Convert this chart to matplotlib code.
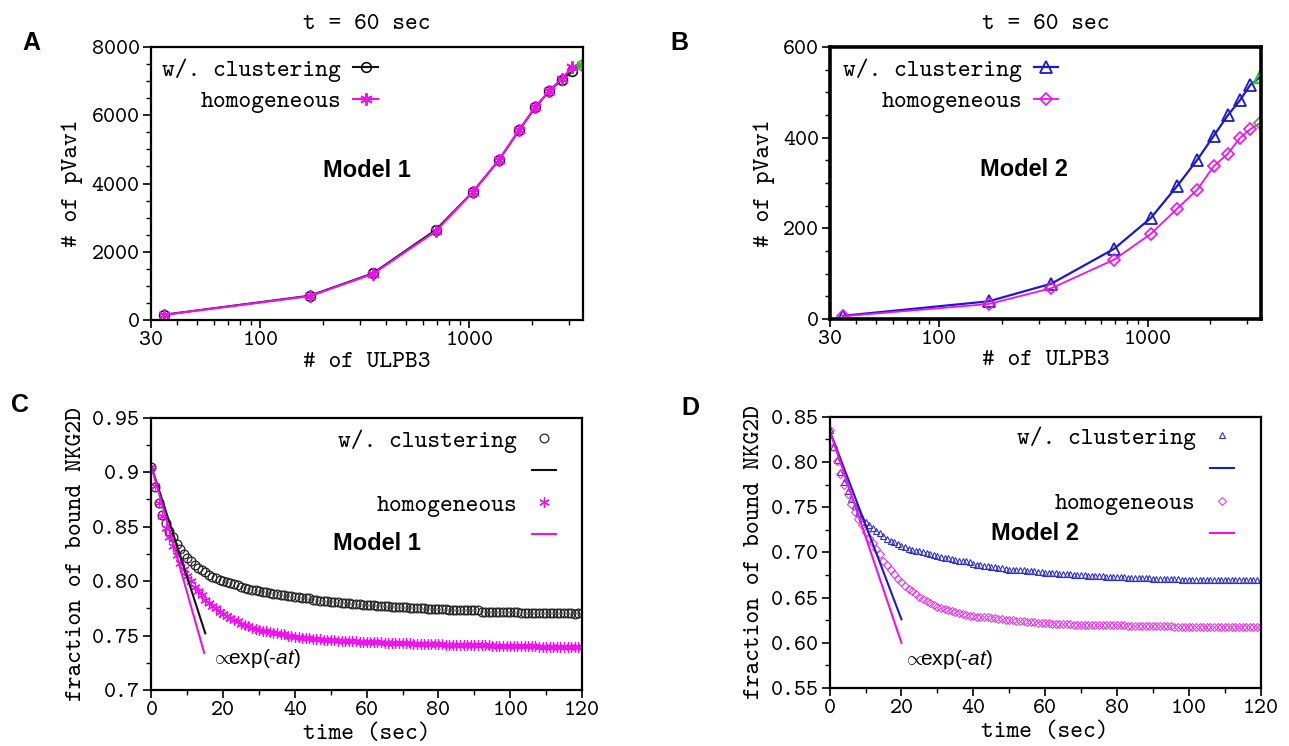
import matplotlib
matplotlib.use('Agg')
import matplotlib.pyplot as plt
from matplotlib.ticker import FixedLocator, FixedFormatter

# ---------------- data ----------------
ulpb3 = [34.6, 173, 346, 692, 1038, 1384, 1730, 2076, 2422, 2768, 3114, 3460]
A_clust = [155, 714, 1369, 2640, 3745, 4675, 5555, 6240, 6718, 7040, 7286, 7480]
A_homog = [150, 700, 1350, 2600, 3740, 4680, 5560, 6250, 6720, 7070, 7400, 7480]
B_clust = [7, 39, 78, 155, 223, 293, 351, 404, 449, 482, 517, 533]
B_homog = [6, 33, 68, 131, 188, 243, 285, 337, 364, 399, 419, 432]

time_s = list(range(0, 121))
C_clust = [0.905, 0.886, 0.872, 0.861, 0.853, 0.846, 0.840, 0.834, 0.829, 0.825,
           0.821, 0.818, 0.815, 0.812, 0.810, 0.808, 0.806, 0.804, 0.803, 0.801,
           0.800, 0.799, 0.798, 0.797, 0.796, 0.795, 0.794, 0.793, 0.792, 0.792,
           0.791, 0.790, 0.790, 0.789, 0.788, 0.788, 0.787, 0.787, 0.786, 0.786,
           0.785, 0.785, 0.784, 0.784, 0.784, 0.783, 0.783, 0.782, 0.782, 0.782,
           0.781, 0.781, 0.781, 0.780, 0.780, 0.780, 0.779, 0.779, 0.779, 0.778,
           0.778, 0.778, 0.778, 0.777, 0.777, 0.777, 0.777, 0.776, 0.776, 0.776,
           0.776, 0.776, 0.775, 0.775, 0.775, 0.775, 0.775, 0.774, 0.774, 0.774,
           0.774, 0.774, 0.774, 0.773, 0.773, 0.773, 0.773, 0.773, 0.773, 0.773,
           0.773, 0.773, 0.772, 0.772, 0.772, 0.772, 0.772, 0.772, 0.772, 0.772,
           0.772, 0.772, 0.772, 0.771, 0.771, 0.771, 0.771, 0.771, 0.771, 0.771,
           0.771, 0.771, 0.771, 0.771, 0.771, 0.771, 0.771, 0.771, 0.770, 0.771, 0.771]
C_homog = [0.905, 0.887, 0.872, 0.860, 0.849, 0.840, 0.832, 0.824, 0.817, 0.811,
           0.805, 0.800, 0.795, 0.791, 0.787, 0.783, 0.780, 0.777, 0.775, 0.772,
           0.770, 0.768, 0.766, 0.764, 0.763, 0.761, 0.760, 0.759, 0.757, 0.756,
           0.755, 0.754, 0.754, 0.753, 0.752, 0.752, 0.751, 0.751, 0.750, 0.750,
           0.749, 0.749, 0.748, 0.748, 0.748, 0.747, 0.747, 0.747, 0.746, 0.746,
           0.746, 0.746, 0.745, 0.745, 0.745, 0.745, 0.745, 0.745, 0.744, 0.744,
           0.744, 0.744, 0.744, 0.744, 0.744, 0.743, 0.743, 0.743, 0.743, 0.743,
           0.743, 0.743, 0.743, 0.742, 0.742, 0.742, 0.742, 0.742, 0.742, 0.742,
           0.742, 0.742, 0.741, 0.741, 0.741, 0.741, 0.741, 0.741, 0.741, 0.741,
           0.741, 0.741, 0.741, 0.741, 0.741, 0.740, 0.740, 0.740, 0.740, 0.740,
           0.740, 0.740, 0.740, 0.740, 0.740, 0.740, 0.740, 0.740, 0.739, 0.739,
           0.739, 0.739, 0.739, 0.739, 0.739, 0.739, 0.739, 0.739, 0.739, 0.739, 0.739]
D_clust = [0.835, 0.817, 0.802, 0.789, 0.778, 0.768, 0.759, 0.751, 0.744, 0.738,
           0.734, 0.730, 0.727, 0.724, 0.721, 0.718, 0.715, 0.713, 0.711, 0.709,
           0.707, 0.706, 0.704, 0.703, 0.702, 0.701, 0.700, 0.699, 0.698, 0.697,
           0.696, 0.695, 0.694, 0.694, 0.693, 0.692, 0.691, 0.690, 0.690, 0.689,
           0.687, 0.686, 0.686, 0.685, 0.685, 0.684, 0.684, 0.683, 0.683, 0.682,
           0.681, 0.681, 0.680, 0.680, 0.680, 0.679, 0.679, 0.679, 0.678, 0.678,
           0.677, 0.677, 0.677, 0.677, 0.676, 0.676, 0.676, 0.676, 0.675, 0.675,
           0.675, 0.675, 0.674, 0.674, 0.674, 0.674, 0.674, 0.673, 0.673, 0.673,
           0.673, 0.673, 0.673, 0.672, 0.672, 0.672, 0.672, 0.672, 0.672, 0.672,
           0.671, 0.671, 0.671, 0.671, 0.671, 0.671, 0.671, 0.671, 0.670, 0.670,
           0.670, 0.670, 0.670, 0.670, 0.670, 0.670, 0.670, 0.670, 0.670, 0.670,
           0.670, 0.670, 0.669, 0.669, 0.669, 0.669, 0.669, 0.669, 0.669, 0.669, 0.669]
D_homog = [0.835, 0.817, 0.801, 0.787, 0.775, 0.764, 0.754, 0.745, 0.737, 0.730,
           0.723, 0.716, 0.710, 0.704, 0.698, 0.691, 0.686, 0.681, 0.676, 0.671,
           0.667, 0.663, 0.660, 0.657, 0.654, 0.651, 0.648, 0.646, 0.644, 0.642,
           0.640, 0.639, 0.637, 0.636, 0.635, 0.634, 0.633, 0.632, 0.631, 0.630,
           0.630, 0.629, 0.629, 0.628, 0.628, 0.627, 0.627, 0.626, 0.626, 0.625,
           0.625, 0.625, 0.624, 0.624, 0.624, 0.623, 0.623, 0.623, 0.622, 0.622,
           0.622, 0.622, 0.621, 0.621, 0.621, 0.621, 0.621, 0.621, 0.620, 0.620,
           0.620, 0.620, 0.620, 0.620, 0.620, 0.620, 0.620, 0.620, 0.620, 0.620,
           0.620, 0.620, 0.620, 0.619, 0.619, 0.619, 0.619, 0.619, 0.619, 0.619,
           0.619, 0.619, 0.619, 0.619, 0.619, 0.619, 0.618, 0.618, 0.618, 0.618,
           0.618, 0.618, 0.618, 0.618, 0.618, 0.618, 0.618, 0.618, 0.618, 0.617,
           0.617, 0.617, 0.617, 0.617, 0.617, 0.617, 0.617, 0.617, 0.617, 0.617, 0.617]

fitC_t_clust = [0, 15.0]
fitC_clust = [0.905, 0.752]
fitC_t_homog = [0, 14.7]
fitC_homog = [0.905, 0.734]
fitD_t = [0, 20.0]
fitD_clust = [0.835, 0.626]
fitD_homog = [0.835, 0.600]

C_yticks = [0.7, 0.75, 0.8, 0.85, 0.9, 0.95]
C_yticklabels = ['0.7', '0.75', '0.80', '0.85', '0.9', '0.95']
D_yticks = [0.55, 0.6, 0.65, 0.7, 0.75, 0.8, 0.85]
D_yticklabels = ['0.55', '0.60', '0.65', '0.70', '0.75', '0.80', '0.85']
x_ticks = [0, 20, 40, 60, 80, 100, 120]
log_ticks = [30, 100, 1000]
log_ticklabels = ['30', '100', '1000']
log_minor = [40, 50, 60, 70, 80, 90, 200, 300, 400, 500, 600, 700, 800, 900, 2000, 3000]

# ---------------- style ----------------
MONO = ['cmtt10', 'DejaVu Sans Mono']
SANS = ['Liberation Sans', 'DejaVu Sans']
plt.rcParams['font.family'] = MONO
plt.rcParams['mathtext.fontset'] = 'custom'
plt.rcParams['mathtext.rm'] = 'Liberation Sans'
plt.rcParams['mathtext.it'] = 'Liberation Sans:italic'
plt.rcParams['mathtext.bf'] = 'Liberation Sans:bold'
plt.rcParams['axes.unicode_minus'] = False

BLACK = '#111111'
MAG = '#ee11ee'
BLUE = '#1a1acc'
GREEN = '#22cc22'
FS = 17.5
TFS = 16.5
EXP_TXT = r'$\propto\!\!$exp(-$\mathit{at}$)'

fig = plt.figure(figsize=(12.89, 7.46), dpi=100)
axA = fig.add_axes([0.1171, 0.5710, 0.3351, 0.3660])
axB = fig.add_axes([0.6439, 0.5724, 0.3344, 0.3646])
axC = fig.add_axes([0.1175, 0.0751, 0.3340, 0.3650])
axD = fig.add_axes([0.6436, 0.0777, 0.3344, 0.3637])


def style(ax, lw):
    for s in ax.spines.values():
        s.set_linewidth(lw)
        s.set_color('black')
    ax.tick_params(which='major', direction='out', length=6, width=1.2,
                   top=False, right=False, labelsize=TFS, pad=2)
    ax.tick_params(which='minor', direction='out', length=3.5, width=1.0,
                   top=False, right=False)


# ---------- A ----------
axA.plot(ulpb3, A_clust, '-', color=BLACK, lw=1.5, marker='o', ms=7, mfc='none',
         mec=BLACK, mew=1.2, markevery=slice(0, len(ulpb3) - 1))
axA.plot(ulpb3, A_homog, '-', color=MAG, lw=1.5, marker=(6, 2, 0), ms=9,
         mec=MAG, mew=1.4, markevery=slice(0, len(ulpb3) - 1))
axA.plot(ulpb3[-1], A_clust[-1], 'o', ms=7, mfc='none', mec=GREEN, mew=1.4)
axA.plot(ulpb3[-1], A_homog[-1], marker=(6, 2, 0), ms=9, mec=GREEN, mew=1.4)
hA1 = plt.Line2D([], [], color=BLACK, lw=1.5, marker='o', ms=7, mfc='none', mec=BLACK, mew=1.2)
hA2 = plt.Line2D([], [], color=MAG, lw=1.5, marker=(6, 2, 0), ms=9, mec=MAG, mew=1.4)
axA.set_xscale('log')
axA.set_xlim(30, 3500)
axA.set_ylim(0, 8000)
axA.xaxis.set_major_locator(FixedLocator(log_ticks))
axA.xaxis.set_major_formatter(FixedFormatter(log_ticklabels))
axA.xaxis.set_minor_locator(FixedLocator(log_minor))
axA.xaxis.set_minor_formatter(FixedFormatter([''] * len(log_minor)))
axA.yaxis.set_major_locator(FixedLocator([0, 2000, 4000, 6000, 8000]))
axA.yaxis.set_minor_locator(FixedLocator([500, 1000, 1500, 2500, 3000, 3500, 4500, 5000,
                                          5500, 6500, 7000, 7500]))
style(axA, 1.6)
axA.set_xlabel('# of ULPB3', fontsize=FS, labelpad=1)
axA.set_ylabel('# of pVav1', fontsize=FS, labelpad=6)
axA.set_title('t = 60 sec', fontsize=FS, pad=13)
axA.legend([hA1, hA2], ['w/. clustering', 'homogeneous'], loc='upper right',
           bbox_to_anchor=(0.525, 0.958), frameon=False, markerfirst=False,
           fontsize=FS, handlelength=1.0, handletextpad=0.5, labelspacing=0.35,
           borderpad=0, borderaxespad=0)
axA.text(0.5, 0.549, 'Model 1', transform=axA.transAxes, ha='center', va='center',
         fontsize=17, fontweight='bold', family=SANS)

# ---------- B ----------
axB.plot(ulpb3, B_clust, '-', color=BLUE, lw=1.6, marker='^', ms=8, mfc='none',
         mec=BLUE, mew=1.3, markevery=slice(0, len(ulpb3) - 1))
axB.plot(ulpb3, B_homog, '-', color=MAG, lw=1.3, marker='D', ms=6, mfc='none',
         mec=MAG, mew=1.2, markevery=slice(0, len(ulpb3) - 1))
axB.plot(ulpb3[-1], B_clust[-1], '^', ms=8, mfc='none', mec=GREEN, mew=1.6)
axB.plot(ulpb3[-1], B_homog[-1], 'D', ms=6, mfc='none', mec='#66aa44', mew=1.4)
hB1 = plt.Line2D([], [], color=BLUE, lw=1.6, marker='^', ms=8, mfc='none', mec=BLUE, mew=1.3)
hB2 = plt.Line2D([], [], color=MAG, lw=1.3, marker='D', ms=6, mfc='none', mec=MAG, mew=1.2)
axB.set_xscale('log')
axB.set_xlim(30, 3500)
axB.set_ylim(0, 600)
axB.xaxis.set_major_locator(FixedLocator(log_ticks))
axB.xaxis.set_major_formatter(FixedFormatter(log_ticklabels))
axB.xaxis.set_minor_locator(FixedLocator(log_minor))
axB.xaxis.set_minor_formatter(FixedFormatter([''] * len(log_minor)))
axB.yaxis.set_major_locator(FixedLocator([0, 200, 400, 600]))
axB.yaxis.set_minor_locator(FixedLocator([50, 100, 150, 250, 300, 350, 450, 500, 550]))
style(axB, 2.6)
axB.set_xlabel('# of ULPB3', fontsize=FS, labelpad=1)
axB.set_ylabel('# of pVav1', fontsize=FS, labelpad=6)
axB.set_title('t = 60 sec', fontsize=FS, pad=13)
axB.legend([hB1, hB2], ['w/. clustering', 'homogeneous'], loc='upper right',
           bbox_to_anchor=(0.530, 0.958), frameon=False, markerfirst=False,
           fontsize=FS, handlelength=1.0, handletextpad=0.5, labelspacing=0.35,
           borderpad=0, borderaxespad=0)
axB.text(0.45, 0.548, 'Model 2', transform=axB.transAxes, ha='center', va='center',
         fontsize=17, fontweight='bold', family=SANS)

# ---------- C ----------
hc1, = axC.plot(time_s, C_clust, 'o', ms=6.3, mfc='none', mec='#222222', mew=0.9)
hc3, = axC.plot(time_s, C_homog, marker=(6, 2, 0), ls='none', ms=7.5, mec=MAG, mew=0.9)
hc2, = axC.plot(fitC_t_clust, fitC_clust, '-', color=BLACK, lw=1.5)
hc4, = axC.plot(fitC_t_homog, fitC_homog, '-', color=MAG, lw=1.5)
axC.set_xlim(0, 120)
axC.set_ylim(0.7, 0.95)
axC.xaxis.set_major_locator(FixedLocator(x_ticks))
axC.xaxis.set_minor_locator(FixedLocator([10, 30, 50, 70, 90, 110]))
axC.yaxis.set_major_locator(FixedLocator(C_yticks))
axC.yaxis.set_major_formatter(FixedFormatter(C_yticklabels))
axC.yaxis.set_minor_locator(FixedLocator([0.725, 0.775, 0.825, 0.875, 0.925]))
style(axC, 1.6)
axC.set_xlabel('time (sec)', fontsize=FS, labelpad=3)
axC.set_ylabel('fraction of bound NKG2D', fontsize=FS, labelpad=4)
axC.legend([hc1, hc2, hc3, hc4], ['w/. clustering', '', 'homogeneous', ''],
           loc='upper right', bbox_to_anchor=(0.94, 0.958), frameon=False,
           markerfirst=False, fontsize=FS, handlelength=1.0, handletextpad=0.6,
           labelspacing=0.37, borderpad=0, borderaxespad=0)
axC.text(0.524, 0.537, 'Model 1', transform=axC.transAxes, ha='center', va='center',
         fontsize=17, fontweight='bold', family=SANS)
axC.text(0.138, 0.114, EXP_TXT, transform=axC.transAxes,
         ha='left', va='center', fontsize=15, family=SANS)

# ---------- D ----------
hd1, = axD.plot(time_s, D_clust, '^', ls='none', ms=4.8, mfc='none', mec='#3030cc', mew=0.8)
hd3, = axD.plot(time_s, D_homog, 'D', ls='none', ms=4.0, mfc='none', mec='#e040e0', mew=0.8)
hd2, = axD.plot(fitD_t, fitD_clust, '-', color=BLUE, lw=1.5)
hd4, = axD.plot(fitD_t, fitD_homog, '-', color=MAG, lw=1.5)
axD.set_xlim(0, 120)
axD.set_ylim(0.55, 0.85)
axD.xaxis.set_major_locator(FixedLocator(x_ticks))
axD.xaxis.set_minor_locator(FixedLocator([10, 30, 50, 70, 90, 110]))
axD.yaxis.set_major_locator(FixedLocator(D_yticks))
axD.yaxis.set_major_formatter(FixedFormatter(D_yticklabels))
axD.yaxis.set_minor_locator(FixedLocator([0.575, 0.625, 0.675, 0.725, 0.775, 0.825]))
style(axD, 1.6)
axD.set_xlabel('time (sec)', fontsize=FS, labelpad=3)
axD.set_ylabel('fraction of bound NKG2D', fontsize=FS, labelpad=4)
axD.legend([hd1, hd2, hd3, hd4], ['w/. clustering', '', 'homogeneous', ''],
           loc='upper right', bbox_to_anchor=(0.939, 0.965), frameon=False,
           markerfirst=False, fontsize=FS, handlelength=1.0, handletextpad=0.6,
           labelspacing=0.4, borderpad=0, borderaxespad=0)
axD.text(0.476, 0.568, 'Model 2', transform=axD.transAxes, ha='center', va='center',
         fontsize=17, fontweight='bold', family=SANS)
axD.text(0.170, 0.107, EXP_TXT, transform=axD.transAxes,
         ha='left', va='center', fontsize=15, family=SANS)

# panel letters
for lab, x, y in [('A', 31 / 1289, 1 - 43 / 746), ('B', 679 / 1289, 1 - 43 / 746),
                  ('C', 20 / 1289, 1 - 405 / 746), ('D', 690 / 1289, 1 - 408 / 746)]:
    fig.text(x, y, lab, ha='center', va='center', fontsize=18, fontweight='bold',
             family=SANS)

fig.savefig('out.png', dpi=100)
